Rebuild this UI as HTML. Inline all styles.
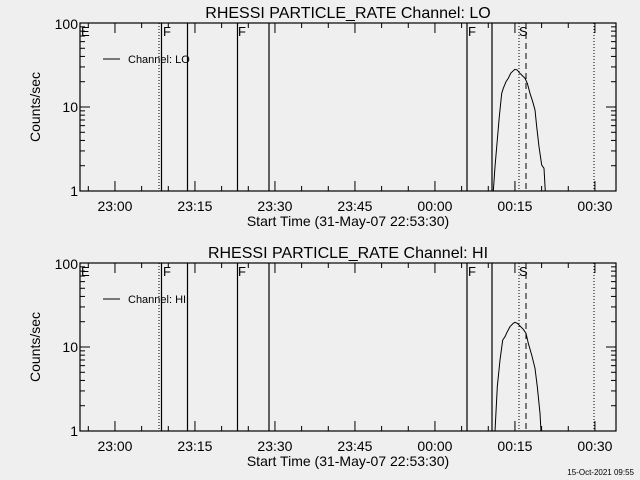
<!DOCTYPE html>
<html><head><style>
html,body{margin:0;padding:0;background:#efefef;}
svg{display:block;}
text{font-family:"Liberation Sans",sans-serif;fill:#000;}
</style></head><body>
<svg id="s" width="640" height="480" xmlns="http://www.w3.org/2000/svg"></svg>
<script>
const s=document.getElementById('s');let h='';
const X0=80,X1=616;
function tx(min){return 80.3+min*5.333;}
function panel(oy,name,pts){
 const T=23+oy,B=191+oy;
 const ly=v=>B-(Math.log10(v))*84;
 h+=`<text x="348" y="${18+oy}" font-size="16" text-anchor="middle">RHESSI PARTICLE_RATE Channel: ${name}</text>`;
 h+=`<rect x="${X0}" y="${T}" width="${X1-X0}" height="${B-T}" fill="none" stroke="#000" stroke-width="1.2"/>`;
 // y ticks
 for(let d=0;d<2;d++)for(let k=1;k<=10;k++){const v=k*Math.pow(10,d);if(v>100)continue;const y=ly(v);const L=(k==1||k==10)?10:5;
  h+=`<line x1="${X0}" x2="${X0+L}" y1="${y}" y2="${y}" stroke="#000"/><line x1="${X1}" x2="${X1-L}" y1="${y}" y2="${y}" stroke="#000"/>`;}
 h+=`<text x="78" y="${T+6}" font-size="14" text-anchor="end">100</text><text x="78" y="${ly(10)+5}" font-size="14" text-anchor="end">10</text><text x="78" y="${B+5}" font-size="14" text-anchor="end">1</text>`;
 // x ticks every 5 min from 22:55
 for(let m=1.5;m<=101;m+=5){const x=tx(m);const maj=((m-6.5)%15===0);const L=maj?10:5;
  h+=`<line x1="${x}" x2="${x}" y1="${B}" y2="${B-L}" stroke="#000"/><line x1="${x}" x2="${x}" y1="${T}" y2="${T+L}" stroke="#000"/>`;}
 const labs=['23:00','23:15','23:30','23:45','00:00','00:15','00:30'];
 labs.forEach((l,i)=>{h+=`<text x="${tx(6.5+15*i)}" y="${211+oy}" font-size="14" text-anchor="middle">${l}</text>`;});
 h+=`<text x="348" y="${226+oy}" font-size="14" text-anchor="middle">Start Time (31-May-07 22:53:30)</text>`;
 h+=`<text transform="translate(40,${107+oy}) rotate(-90)" font-size="14" text-anchor="middle">Counts/sec</text>`;
 h+=`<line x1="103" x2="120" y1="${59+oy}" y2="${59+oy}" stroke="#000"/><text x="128" y="${63+oy}" font-size="11">Channel: ${name}</text>`;
 // vertical lines
 [[159,'1,2'],[594,'1,2'],[519,'1,2']].forEach(a=>h+=`<line x1="${a[0]}" x2="${a[0]}" y1="${T}" y2="${B}" stroke="#000" stroke-dasharray="${a[1]}"/>`);
 h+=`<line x1="526" x2="526" y1="${T}" y2="${B}" stroke="#000" stroke-dasharray="6,4"/>`;
 [161.5,187.5,237.5,269,467,492].forEach(x=>h+=`<line x1="${x}" x2="${x}" y1="${T}" y2="${B}" stroke="#000" stroke-width="1.2"/>`);
 [['E',81],['F',163],['F',238],['F',468],['S',519]].forEach(a=>h+=`<text x="${a[1]}" y="${T+13}" font-size="13">${a[0]}</text>`);
 h+=`<polyline fill="none" stroke="#000" points="${pts.map(p=>(420+p[0]/3).toFixed(1)+','+(oy+p[1]/3).toFixed(1)).join(' ')}"/>`;
}
panel(0,'LO',[[220,574],[225,500],[232,420],[238,350],[245,280],[250,265],[258,245],[265,235],[272,220],[280,212],[285,208],[292,210],[298,218],[305,225],[315,235],[322,250],[330,280],[338,305],[345,330],[350,380],[357,440],[365,495],[372,505],[376,574]]);
panel(240,'HI',[[225,574],[232,440],[240,360],[248,300],[255,290],[262,275],[270,260],[280,250],[285,247],[292,250],[300,258],[310,268],[318,280],[325,310],[335,345],[345,385],[352,440],[360,520],[363,574]]);
h+=`<text x="634" y="475" font-size="8" text-anchor="end">15-Oct-2021 09:55</text>`;
s.innerHTML=h;
</script>
</body></html>
